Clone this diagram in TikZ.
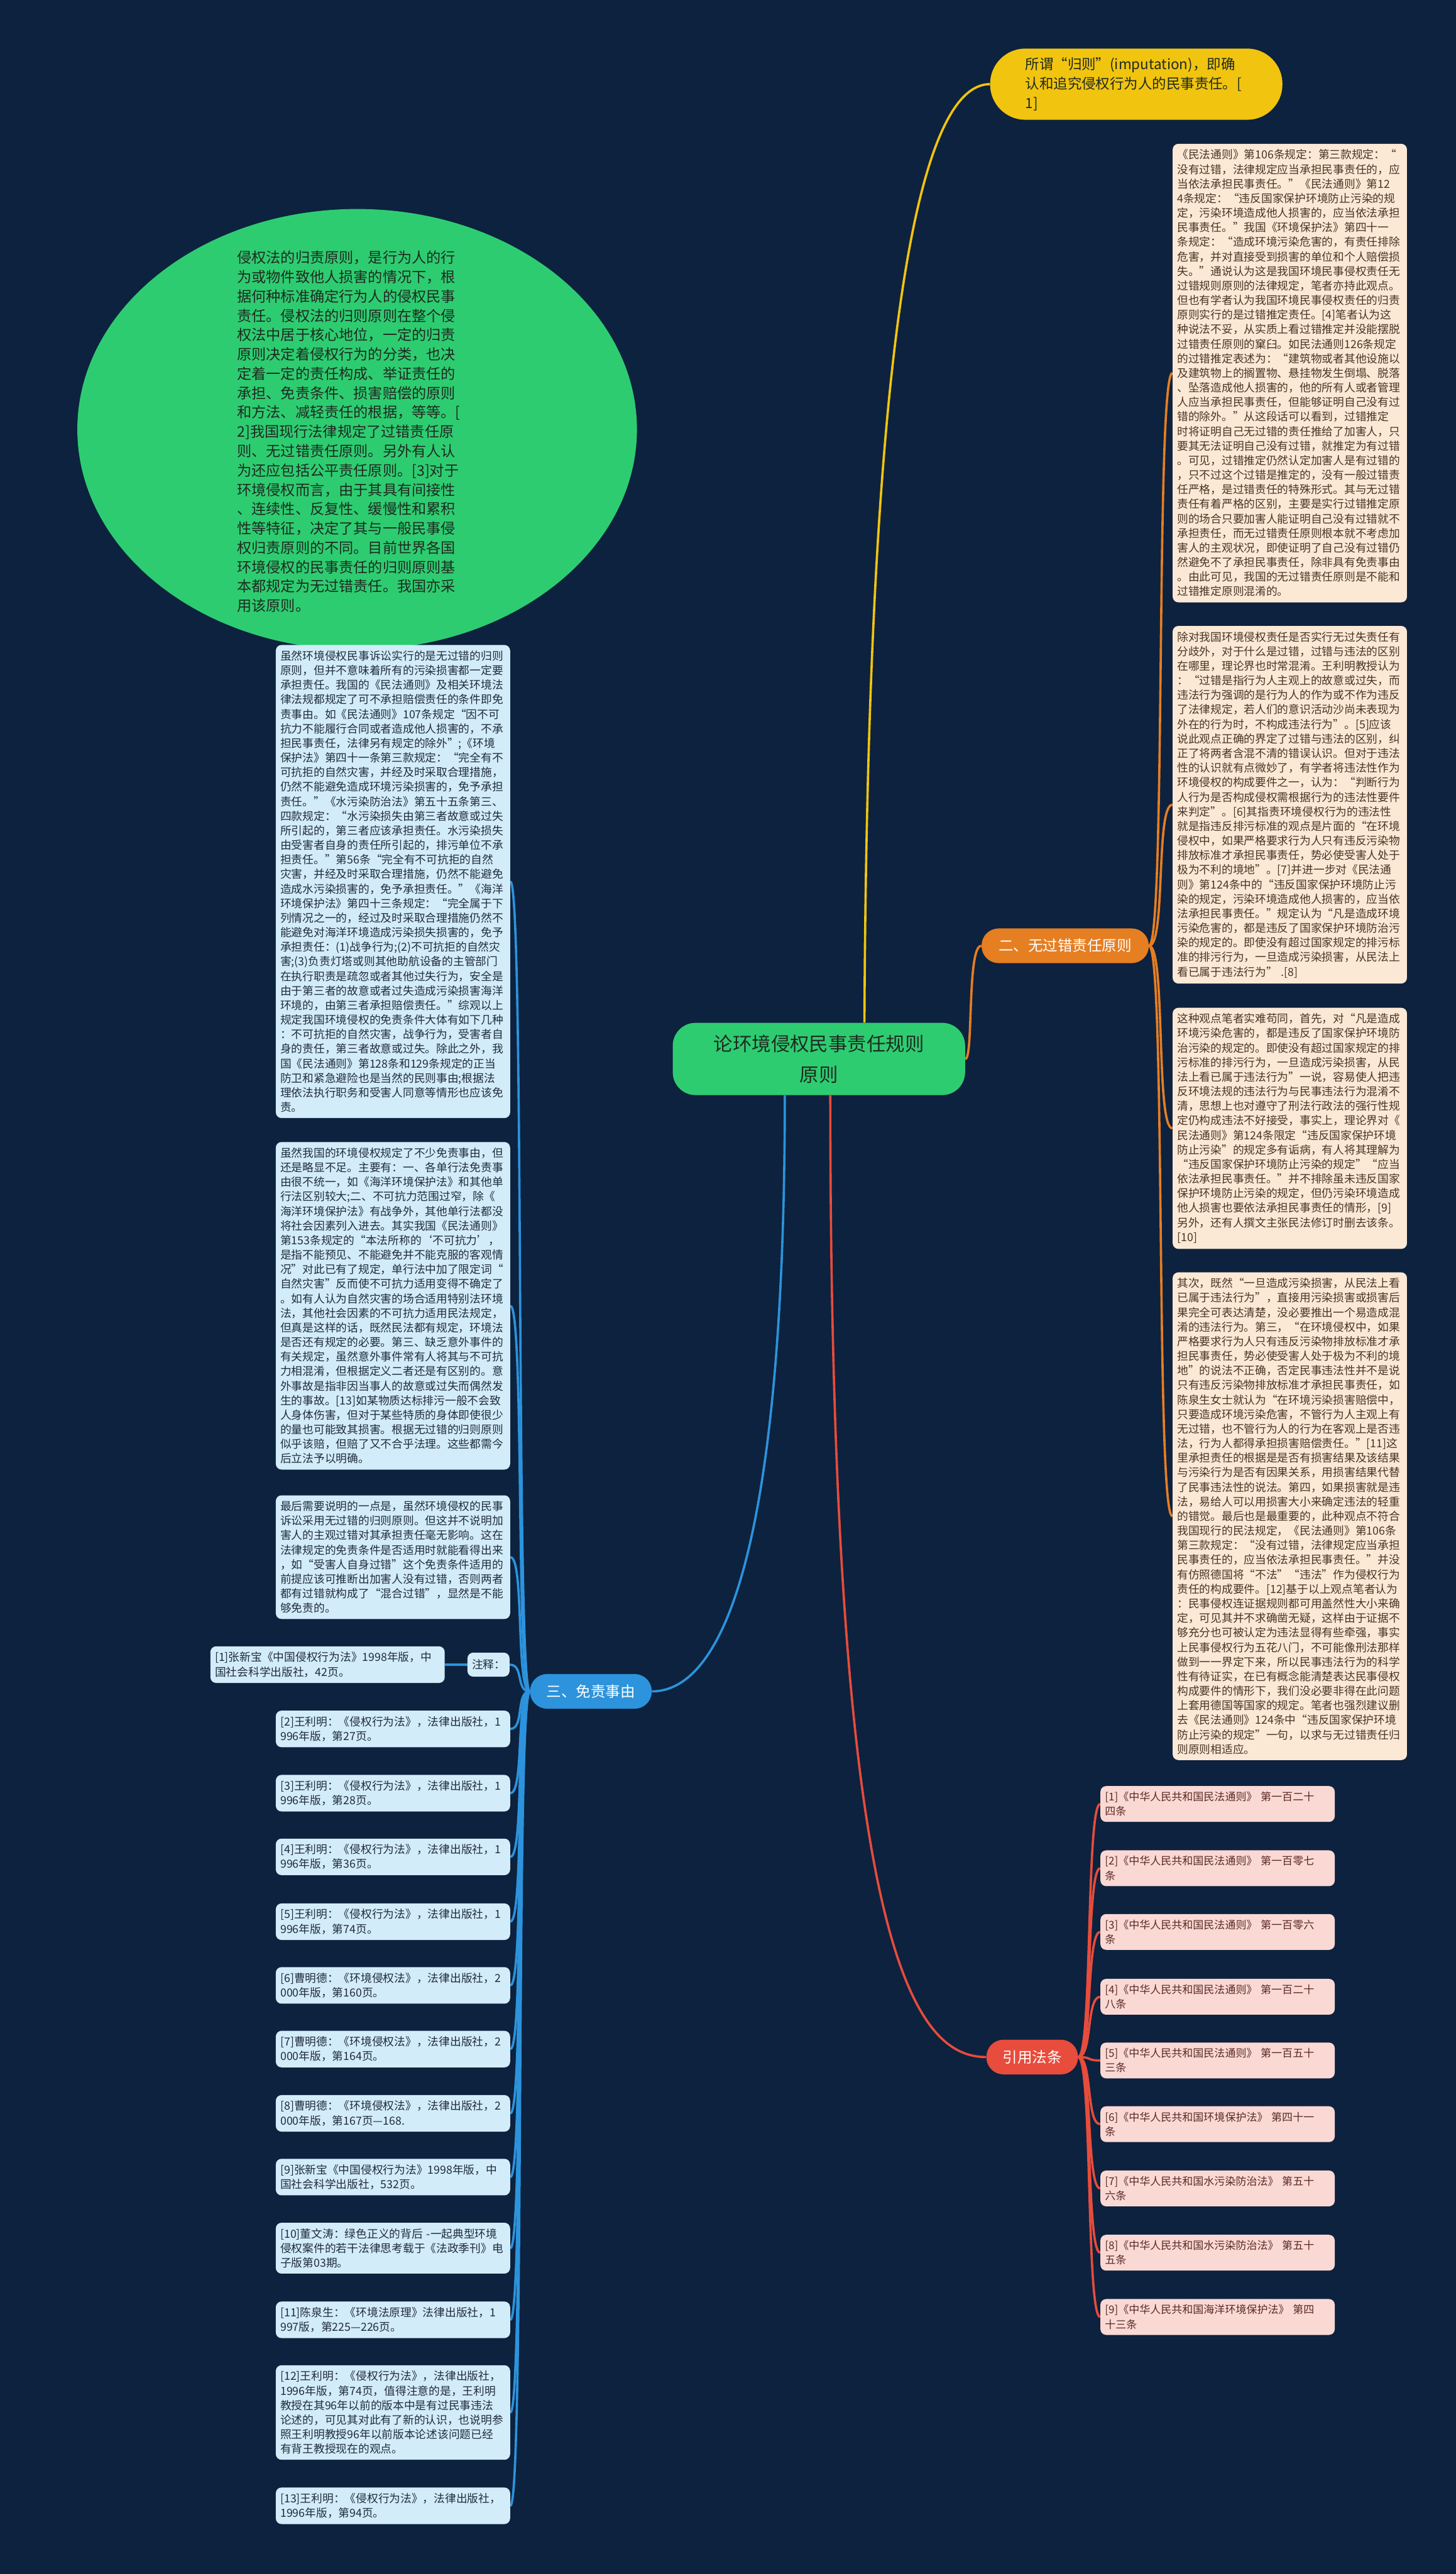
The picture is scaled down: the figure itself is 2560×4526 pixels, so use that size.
\documentclass[tikz,border=0pt]{standalone}
\usepackage{fontspec}
\setmainfont{Noto Sans CJK SC}
\usetikzlibrary{shapes.geometric,backgrounds}
\definecolor{bgnavy}{HTML}{0D223E}
\definecolor{greenfill}{HTML}{2ECC71}
\definecolor{yellowfill}{HTML}{F1C40F}
\definecolor{orangefill}{HTML}{E67E22}
\definecolor{redfill}{HTML}{E74C3C}
\definecolor{bluefill}{HTML}{2C93DC}
\definecolor{beigefill}{HTML}{FBE9D5}
\definecolor{beigetext}{HTML}{4A3426}
\definecolor{palefill}{HTML}{D3ECF9}
\definecolor{paletext}{HTML}{1F2D3D}
\definecolor{pinkfill}{HTML}{FAD9D5}
\definecolor{pinktext}{HTML}{5A2A24}
\definecolor{darktext}{HTML}{1E2A20}
\tikzset{
  textbox/.style={rounded corners=5pt, inner xsep=4pt, inner ysep=5pt, text width=198pt,
    align=left, font=\fontsize{9.8}{12.8}\selectfont},
  beigebox/.style={textbox, fill=beigefill, text=beigetext},
  palebox/.style={textbox, fill=palefill, text=paletext},
  pinkbox/.style={textbox, fill=pinkfill, text=pinktext, font=\fontsize{9.4}{12.8}\selectfont},
  branch/.style={rounded corners=15pt, minimum height=30.5pt, inner sep=0pt, text=white,
    font=\fontsize{13}{15}\selectfont},
  link/.style={line width=2pt}
}
\begin{document}
\begin{tikzpicture}[x=0.5pt, y=-0.5pt]
    \useasboundingbox (0,0) rectangle (2560,4526);

    % 中心主题
    \node[fill=greenfill, text=darktext, rounded corners=20pt, minimum width=257pt, minimum height=63.5pt,
          align=center, font=\fontsize{16.8}{27}\selectfont] (root) at (1440,1862)
        {论环境侵权民事责任规则\\原则};

    % 归则
    \node[fill=yellowfill, text=darktext, rounded corners=31pt, inner xsep=31pt, inner ysep=8pt,
          text width=195pt, align=left, font=\fontsize{12.4}{17}\selectfont] (topnote) at (1998,148)
        {所谓“归则”(imputation)，即确\\认和追究侵权行为人的民事责任。[\\1]};

    % 归责原则概述
    \node[ellipse, fill=greenfill, minimum width=492pt, minimum height=387.5pt] (intro) at (628,755) {};
    \node[text=darktext, text width=198pt, align=left, font=\fontsize{12.8}{17}\selectfont] (introtext) at (615,759)
        {侵权法的归责原则，是行为人的行\\为或物件致他人损害的情况下，根\\据何种标准确定行为人的侵权民事\\责任。侵权法的归则原则在整个侵\\权法中居于核心地位，一定的归责\\原则决定着侵权行为的分类，也决\\定着一定的责任构成、举证责任的\\承担、免责条件、损害赔偿的原则\\和方法、减轻责任的根据，等等。[\\2]我国现行法律规定了过错责任原\\则、无过错责任原则。另外有人认\\为还应包括公平责任原则。[3]对于\\环境侵权而言，由于其具有间接性\\、连续性、反复性、缓慢性和累积\\性等特征，决定了其与一般民事侵\\权归责原则的不同。目前世界各国\\环境侵权的民事责任的归则原则基\\本都规定为无过错责任。我国亦采\\用该原则。};

    % 二、无过错责任原则
    \node[branch, fill=orangefill, minimum width=147pt] (faultbr) at (1873,1663) {二、无过错责任原则};

    \node[beigebox] (fault1) at (2268,656)
        {《民法通则》第106条规定：第三款规定：“\\没有过错，法律规定应当承担民事责任的，应\\当依法承担民事责任。”《民法通则》第12\\4条规定：“违反国家保护环境防止污染的规\\定，污染环境造成他人损害的，应当依法承担\\民事责任。”我国《环境保护法》第四十一\\条规定：“造成环境污染危害的，有责任排除\\危害，并对直接受到损害的单位和个人赔偿损\\失。”通说认为这是我国环境民事侵权责任无\\过错规则原则的法律规定，笔者亦持此观点。\\但也有学者认为我国环境民事侵权责任的归责\\原则实行的是过错推定责任。[4]笔者认为这\\种说法不妥，从实质上看过错推定并没能摆脱\\过错责任原则的窠臼。如民法通则126条规定\\的过错推定表述为：“建筑物或者其他设施以\\及建筑物上的搁置物、悬挂物发生倒塌、脱落\\、坠落造成他人损害的，他的所有人或者管理\\人应当承担民事责任，但能够证明自己没有过\\错的除外。”从这段话可以看到，过错推定\\时将证明自己无过错的责任推给了加害人，只\\要其无法证明自己没有过错，就推定为有过错\\。可见，过错推定仍然认定加害人是有过错的\\，只不过这个过错是推定的，没有一般过错责\\任严格，是过错责任的特殊形式。其与无过错\\责任有着严格的区别，主要是实行过错推定原\\则的场合只要加害人能证明自己没有过错就不\\承担责任，而无过错责任原则根本就不考虑加\\害人的主观状况，即使证明了自己没有过错仍\\然避免不了承担民事责任，除非具有免责事由\\。由此可见，我国的无过错责任原则是不能和\\过错推定原则混淆的。};

    \node[beigebox] (fault2) at (2268,1415)
        {除对我国环境侵权责任是否实行无过失责任有\\分歧外，对于什么是过错，过错与违法的区别\\在哪里，理论界也时常混淆。王利明教授认为\\：“过错是指行为人主观上的故意或过失，而\\违法行为强调的是行为人的作为或不作为违反\\了法律规定，若人们的意识活动沙尚未表现为\\外在的行为时，不构成违法行为”。[5]应该\\说此观点正确的界定了过错与违法的区别，纠\\正了将两者含混不清的错误认识。但对于违法\\性的认识就有点微妙了，有学者将违法性作为\\环境侵权的构成要件之一，认为：“判断行为\\人行为是否构成侵权需根据行为的违法性要件\\来判定”。[6]其指责环境侵权行为的违法性\\就是指违反排污标准的观点是片面的“在环境\\侵权中，如果严格要求行为人只有违反污染物\\排放标准才承担民事责任，势必使受害人处于\\极为不利的境地”。[7]并进一步对《民法通\\则》第124条中的“违反国家保护环境防止污\\染的规定，污染环境造成他人损害的，应当依\\法承担民事责任。”规定认为“凡是造成环境\\污染危害的，都是违反了国家保护环境防治污\\染的规定的。即使没有超过国家规定的排污标\\准的排污行为，一旦造成污染损害，从民法上\\看已属于违法行为” .[8]};

    \node[beigebox] (fault3) at (2268,1984)
        {这种观点笔者实难苟同，首先，对“凡是造成\\环境污染危害的，都是违反了国家保护环境防\\治污染的规定的。即使没有超过国家规定的排\\污标准的排污行为，一旦造成污染损害，从民\\法上看已属于违法行为”一说，容易使人把违\\反环境法规的违法行为与民事违法行为混淆不\\清，思想上也对遵守了刑法行政法的强行性规\\定仍构成违法不好接受，事实上，理论界对《\\民法通则》第124条限定“违反国家保护环境\\防止污染”的规定多有诟病，有人将其理解为\\“违反国家保护环境防止污染的规定”“应当\\依法承担民事责任。”并不排除虽未违反国家\\保护环境防止污染的规定，但仍污染环境造成\\他人损害也要依法承担民事责任的情形，[9]\\另外，还有人撰文主张民法修订时删去该条。\\{}[10]};

    \node[beigebox] (fault4) at (2268,2666)
        {其次，既然“一旦造成污染损害，从民法上看\\已属于违法行为”，直接用污染损害或损害后\\果完全可表达清楚，没必要推出一个易造成混\\淆的违法行为。第三，“在环境侵权中，如果\\严格要求行为人只有违反污染物排放标准才承\\担民事责任，势必使受害人处于极为不利的境\\地”的说法不正确，否定民事违法性并不是说\\只有违反污染物排放标准才承担民事责任，如\\陈泉生女士就认为“在环境污染损害赔偿中，\\只要造成环境污染危害，不管行为人主观上有\\无过错，也不管行为人的行为在客观上是否违\\法，行为人都得承担损害赔偿责任。”[11]这\\里承担责任的根据是是否有损害结果及该结果\\与污染行为是否有因果关系，用损害结果代替\\了民事违法性的说法。第四，如果损害就是违\\法，易给人可以用损害大小来确定违法的轻重\\的错觉。最后也是最重要的，此种观点不符合\\我国现行的民法规定，《民法通则》第106条\\第三款规定：“没有过错，法律规定应当承担\\民事责任的，应当依法承担民事责任。”并没\\有仿照德国将“不法”“违法”作为侵权行为\\责任的构成要件。[12]基于以上观点笔者认为\\：民事侵权连证据规则都可用盖然性大小来确\\定，可见其并不求确凿无疑，这样由于证据不\\够充分也可被认定为违法显得有些牵强，事实\\上民事侵权行为五花八门，不可能像刑法那样\\做到一一界定下来，所以民事违法行为的科学\\性有待证实，在已有概念能清楚表达民事侵权\\构成要件的情形下，我们没必要非得在此问题\\上套用德国等国家的规定。笔者也强烈建议删\\去《民法通则》124条中“违反国家保护环境\\防止污染的规定”一句，以求与无过错责任归\\则原则相适应。};

    % 三、免责事由
    \node[branch, fill=bluefill, minimum width=107pt] (immunbr) at (1039,2974) {三、免责事由};

    \node[palebox] (immun1) at (691,1550)
        {虽然环境侵权民事诉讼实行的是无过错的归则\\原则，但并不意味着所有的污染损害都一定要\\承担责任。我国的《民法通则》及相关环境法\\律法规都规定了可不承担赔偿责任的条件即免\\责事由。如《民法通则》107条规定“因不可\\抗力不能履行合同或者造成他人损害的，不承\\担民事责任，法律另有规定的除外”;《环境\\保护法》第四十一条第三款规定：“完全有不\\可抗拒的自然灾害，并经及时采取合理措施，\\仍然不能避免造成环境污染损害的，免予承担\\责任。”《水污染防治法》第五十五条第三、\\四款规定：“水污染损失由第三者故意或过失\\所引起的，第三者应该承担责任。水污染损失\\由受害者自身的责任所引起的，排污单位不承\\担责任。”第56条“完全有不可抗拒的自然\\灾害，并经及时采取合理措施，仍然不能避免\\造成水污染损害的，免予承担责任。”《海洋\\环境保护法》第四十三条规定：“完全属于下\\列情况之一的，经过及时采取合理措施仍然不\\能避免对海洋环境造成污染损失损害的，免予\\承担责任：(1)战争行为;(2)不可抗拒的自然灾\\害;(3)负责灯塔或则其他助航设备的主管部门\\在执行职责是疏忽或者其他过失行为，安全是\\由于第三者的故意或者过失造成污染损害海洋\\环境的，由第三者承担赔偿责任。”综观以上\\规定我国环境侵权的免责条件大体有如下几种\\：不可抗拒的自然灾害，战争行为，受害者自\\身的责任，第三者故意或过失。除此之外，我\\国《民法通则》第128条和129条规定的正当\\防卫和紧急避险也是当然的民则事由;根据法\\理依法执行职务和受害人同意等情形也应该免\\责。};

    \node[palebox] (immun2) at (691,2296)
        {虽然我国的环境侵权规定了不少免责事由，但\\还是略显不足。主要有：一、各单行法免责事\\由很不统一，如《海洋环境保护法》和其他单\\行法区别较大;二、不可抗力范围过窄，除《\\海洋环境保护法》有战争外，其他单行法都没\\将社会因素列入进去。其实我国《民法通则》\\第153条规定的“本法所称的‘不可抗力’，\\是指不能预见、不能避免并不能克服的客观情\\况”对此已有了规定，单行法中加了限定词“\\自然灾害”反而使不可抗力适用变得不确定了\\。如有人认为自然灾害的场合适用特别法环境\\法，其他社会因素的不可抗力适用民法规定，\\但真是这样的话，既然民法都有规定，环境法\\是否还有规定的必要。第三、缺乏意外事件的\\有关规定，虽然意外事件常有人将其与不可抗\\力相混淆，但根据定义二者还是有区别的。意\\外事故是指非因当事人的故意或过失而偶然发\\生的事故。[13]如某物质达标排污一般不会致\\人身体伤害，但对于某些特质的身体即使很少\\的量也可能致其损害。根据无过错的归则原则\\似乎该赔，但赔了又不合乎法理。这些都需今\\后立法予以明确。};

    \node[palebox] (immun3) at (691,2738)
        {最后需要说明的一点是，虽然环境侵权的民事\\诉讼采用无过错的归则原则。但这并不说明加\\害人的主观过错对其承担责任毫无影响。这在\\法律规定的免责条件是否适用时就能看得出来\\，如“受害人自身过错”这个免责条件适用的\\前提应该可推断出加害人没有过错，否则两者\\都有过错就构成了“混合过错”，显然是不能\\够免责的。};

    % 注释
    \node[palebox, text width=29pt, inner ysep=6pt] (notetag) at (859,2927) {注释：};
    \node[palebox] (lref1) at (576,2927) {[1]张新宝《中国侵权行为法》1998年版，中\\国社会科学出版社，42页。};
    \node[palebox] (lref2) at (691,3040) {[2]王利明：《侵权行为法》，法律出版社，1\\996年版，第27页。};
    \node[palebox] (lref3) at (691,3153) {[3]王利明：《侵权行为法》，法律出版社，1\\996年版，第28页。};
    \node[palebox] (lref4) at (691,3265) {[4]王利明：《侵权行为法》，法律出版社，1\\996年版，第36页。};
    \node[palebox] (lref5) at (691,3379) {[5]王利明：《侵权行为法》，法律出版社，1\\996年版，第74页。};
    \node[palebox] (lref6) at (691,3491) {[6]曹明德：《环境侵权法》，法律出版社，2\\000年版，第160页。};
    \node[palebox] (lref7) at (691,3603) {[7]曹明德：《环境侵权法》，法律出版社，2\\000年版，第164页。};
    \node[palebox] (lref8) at (691,3716) {[8]曹明德：《环境侵权法》，法律出版社，2\\000年版，第167页—168.};
    \node[palebox] (lref9) at (691,3828) {[9]张新宝《中国侵权行为法》1998年版，中\\国社会科学出版社，532页。};
    \node[palebox] (lref10) at (691,3953) {[10]董文涛：绿色正义的背后 -一起典型环境\\侵权案件的若干法律思考载于《法政季刊》电\\子版第03期。};
    \node[palebox] (lref11) at (691,4079) {[11]陈泉生：《环境法原理》法律出版社，1\\997版，第225—226页。};
    \node[palebox] (lref12) at (691,4242) {[12]王利明：《侵权行为法》，法律出版社，\\1996年版，第74页，值得注意的是，王利明\\教授在其96年以前的版本中是有过民事违法\\论述的，可见其对此有了新的认识，也说明参\\照王利明教授96年以前版本论述该问题已经\\有背王教授现在的观点。};
    \node[palebox] (lref13) at (691,4406) {[13]王利明：《侵权行为法》，法律出版社，\\1996年版，第94页。};

    % 引用法条
    \node[branch, fill=redfill, minimum width=80.5pt] (lawbr) at (1815,3617) {引用法条};

    \node[pinkbox] (law1) at (2141,3172) {[1]《中华人民共和国民法通则》 第一百二十\\四条};
    \node[pinkbox] (law2) at (2141,3285) {[2]《中华人民共和国民法通则》 第一百零七\\条};
    \node[pinkbox] (law3) at (2141,3397) {[3]《中华人民共和国民法通则》 第一百零六\\条};
    \node[pinkbox] (law4) at (2141,3511) {[4]《中华人民共和国民法通则》 第一百二十\\八条};
    \node[pinkbox] (law5) at (2141,3623) {[5]《中华人民共和国民法通则》 第一百五十\\三条};
    \node[pinkbox] (law6) at (2141,3735) {[6]《中华人民共和国环境保护法》 第四十一\\条};
    \node[pinkbox] (law7) at (2141,3848) {[7]《中华人民共和国水污染防治法》 第五十\\六条};
    \node[pinkbox] (law8) at (2141,3961) {[8]《中华人民共和国水污染防治法》 第五十\\五条};
    \node[pinkbox] (law9) at (2141,4074) {[9]《中华人民共和国海洋环境保护法》 第四\\十三条};

    % 连线
    \begin{scope}[on background layer]
        \fill[bgnavy] (0,0) rectangle (2560,4526);
        \draw[link, yellowfill] ([xshift=40pt]root.north) .. controls (1525,700) and (1600,148) .. (topnote.west);
        \draw[link, orangefill] (root.east) .. controls (1712,1862) and (1700,1663) .. (faultbr.west);
        \draw[link, redfill] ([xshift=10pt]root.south) .. controls (1460,3400) and (1600,3617) .. (lawbr.west);
        \draw[link, bluefill] ([xshift=-30pt]root.south) .. controls (1380,2800) and (1250,2974) .. (immunbr.east);
        \foreach \n in {fault1,fault2,fault3,fault4}
            \draw[link, orangefill] (faultbr.east) .. controls +(30,0) and +(-30,0) .. (\n.west);
        \foreach \n in {immun1,immun2,immun3,notetag,lref2,lref3,lref4,lref5,lref6,lref7,lref8,lref9,lref10,lref11,lref12,lref13}
            \draw[link, bluefill] (immunbr.west) .. controls +(-25,0) and +(25,0) .. (\n.east);
        \draw[link, bluefill] (notetag.west) -- (lref1.east);
        \foreach \n in {law1,law2,law3,law4,law5,law6,law7,law8,law9}
            \draw[link, redfill] (lawbr.east) .. controls +(25,0) and +(-25,0) .. (\n.west);
    \end{scope}
\end{tikzpicture}
\end{document}
